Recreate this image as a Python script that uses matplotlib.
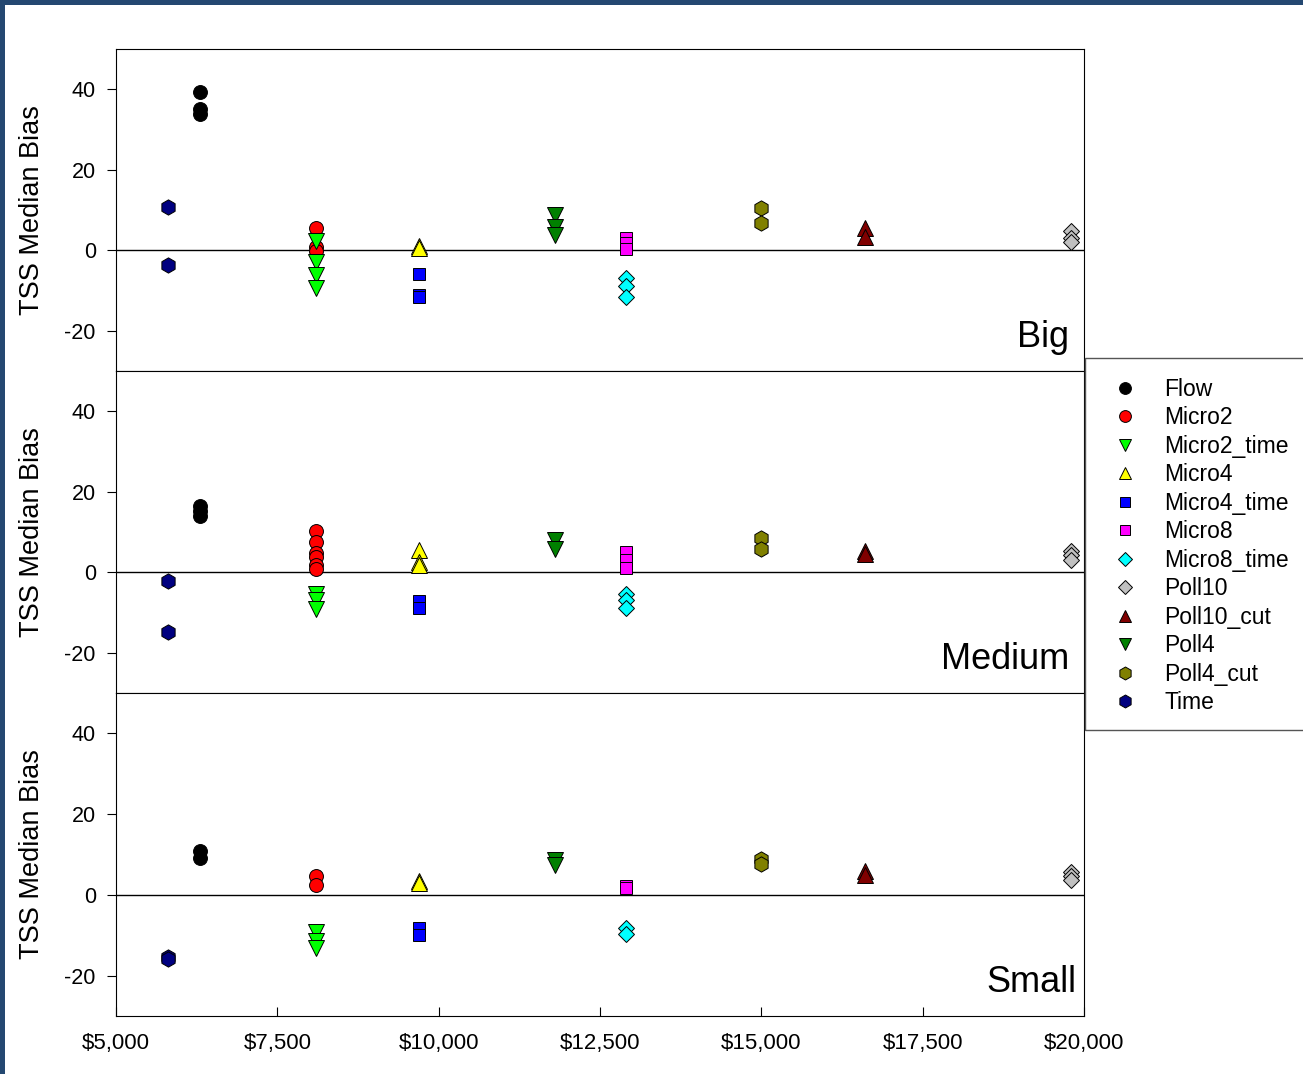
import matplotlib.pyplot as plt
from matplotlib.patches import Rectangle

plt.rcParams['font.family'] = ['Liberation Sans', 'DejaVu Sans']
plt.rcParams['axes.unicode_minus'] = False

# series shown in the legend, in legend order
series = ["Flow", "Micro2", "Micro2_time", "Micro4", "Micro4_time", "Micro8",
          "Micro8_time", "Poll10", "Poll10_cut", "Poll4", "Poll4_cut", "Time"]
# cost of each design (x position)
cost = [6300, 8100, 8100, 9700, 9700, 12900, 12900, 19800, 16600, 11800, 15000, 5800]

# TSS median bias per series, one list per panel
big = [[39.4, 35.0, 33.8], [5.5, 0.7, -0.3], [2.3, -2.8, -6.2, -9.3], [1.0, 0.5],
       [-5.8, -11.2, -11.6], [3.0, 1.8, 0.2], [-6.8, -8.8, -11.5], [4.8, 3.0, 2.0],
       [5.5, 3.4], [8.7, 5.8, 3.8], [10.6, 6.7], [10.8, -3.6]]
medium = [[16.5, 15.2, 14.0], [10.3, 7.6, 4.7, 3.8, 1.8, 0.8], [-5.5, -7.0, -9.2],
          [5.5, 2.5, 1.8], [-7.2, -9.0], [5.0, 3.0, 1.0], [-5.5, -7.0, -8.8],
          [5.2, 4.2, 3.0], [5.2, 4.5], [8.0, 5.8], [8.6, 5.9], [-2.2, -14.8]]
small = [[10.8, 9.2], [4.6, 2.4], [-9.2, -11.5, -13.2], [3.4, 3.0], [-8.2, -10.0],
         [2.2, 1.6], [-8.2, -9.8], [5.6, 4.6, 3.6], [5.8, 4.8], [8.6, 7.3],
         [8.8, 7.6], [-15.5, -15.8]]
panels = ["Big", "Medium", "Small"]
xticks = [5000, 7500, 10000, 12500, 15000, 17500, 20000]
xticklabels = ["$5,000", "$7,500", "$10,000", "$12,500", "$15,000", "$17,500", "$20,000"]

# marker style for each series
markers = ['o', 'o', 'v', '^', 's', 's', 'D', 'D', '^', 'v', 'h', 'h']
colors = ['black', 'red', '#00ff00', 'yellow', 'blue', 'magenta', 'cyan',
          '#c0c0c0', '#800000', '#008000', '#808000', '#000080']
msizes = [10, 10, 11, 11, 9, 9, 8, 8, 11, 11, 11, 11]

fig = plt.figure(figsize=(13.03, 10.74), dpi=100)
W, H = 1303, 1074
left, right = 116 / W, 1084 / W
tops = [49, 371, 693]
bottoms = [371, 693, 1016]

axes = []
for i, (name, vals) in enumerate(zip(panels, [big, medium, small])):
    ax = fig.add_axes([left, 1 - bottoms[i] / H, right - left, (bottoms[i] - tops[i]) / H])
    ax.axhline(0, color='black', lw=1.0, zorder=1)
    for s, x, ys, m, c, ms in zip(series, cost, vals, markers, colors, msizes):
        ax.plot([x] * len(ys), ys, linestyle='none', marker=m, color=c, ms=ms,
                mec='black', mew=0.7, label=s, zorder=3)
    ax.set_xlim(5000, 20000)
    ax.set_ylim(-30, 50)
    ax.set_yticks([-20, 0, 20, 40])
    ax.tick_params(axis='y', direction='out', length=6.5, width=0.8, labelsize=15.5, pad=8)
    ax.set_ylabel("TSS Median Bias", fontsize=19.5, labelpad=14)
    ax.text(0.985 if i < 2 else 0.992, 0.075, name, transform=ax.transAxes,
            ha='right', va='baseline', fontsize=26)
    for sp in ax.spines.values():
        sp.set_linewidth(0.8)
    if i < 2:
        ax.set_xticks([])
    else:
        ax.set_xticks(xticks)
        ax.set_xticklabels(xticklabels)
        ax.tick_params(axis='x', direction='in', length=6.5, width=0.8, labelsize=16, pad=12)
    axes.append(ax)

# align y labels at the same x
fig.align_ylabels(axes)

# legend
handles, labels = axes[0].get_legend_handles_labels()
leg = fig.legend(handles, labels, loc='upper left', bbox_to_anchor=(1093 / W, 1 - 357 / H),
                 frameon=False, fontsize=16.5, handlelength=1.0, handletextpad=1.2,
                 labelspacing=0.24, markerscale=0.85)
fig.add_artist(Rectangle((1085 / W, 1 - 730 / H), 0.2, 372 / H, transform=fig.transFigure,
                         fill=False, edgecolor='#555555', lw=1.0, clip_on=False))

# blue frame strips
fig.add_artist(Rectangle((0, 0), 5 / W, 1, transform=fig.transFigure, color='#244871', lw=0))
fig.add_artist(Rectangle((0, 1 - 5 / H), 1, 5 / H, transform=fig.transFigure, color='#244871', lw=0))

fig.savefig("out.png", dpi=100)
